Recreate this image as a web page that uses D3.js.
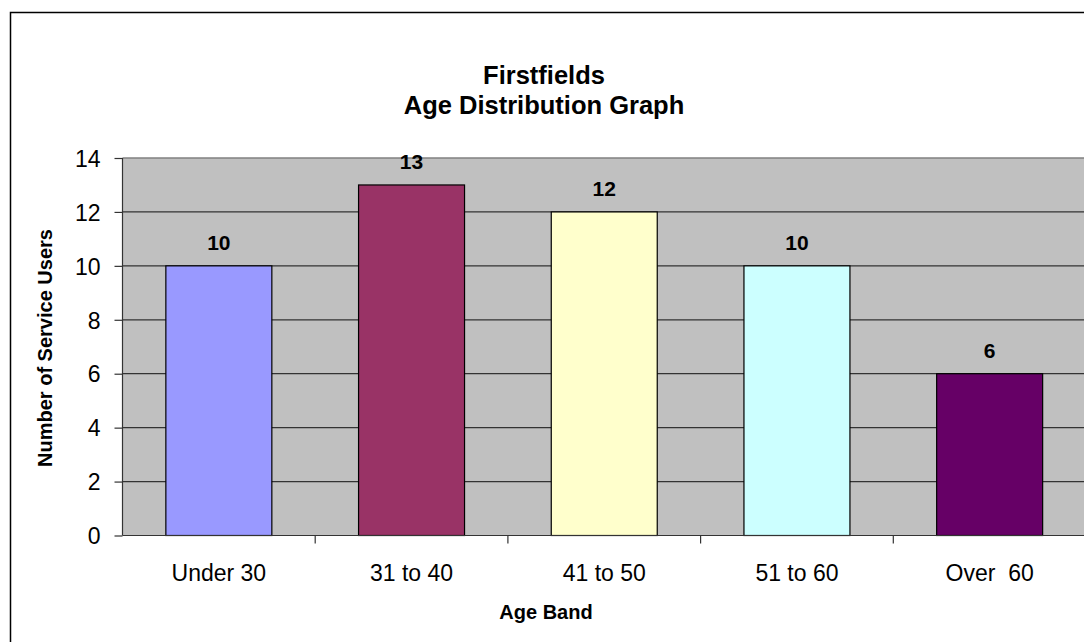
<!DOCTYPE html>
<html><head><meta charset="utf-8">
<script src="https://cdn.jsdelivr.net/npm/d3@7"></script>
<style>body{margin:0;background:#fff}svg{display:block}text{font-family:"Liberation Sans",Arial,sans-serif;white-space:pre}</style>
</head><body><svg id="c" width="1084" height="642"></svg>
<script>
const categories = ["Under 30","31 to 40","41 to 50","51 to 60","Over  60"];
const values = [10,13,12,10,6];
const colors = ["#9999FF","#993366","#FFFFCC","#CCFFFF","#660066"];
const yTicks = [0,2,4,6,8,10,12,14];
const titleLines = ["Firstfields","Age Distribution Graph"];

const svg = d3.select("#c");
const L=122.5, T=158, R=1086, B=535.5;
svg.append("rect").attr("x",10.5).attr("y",12.5).attr("width",1100).attr("height",700)
  .attr("fill","#fff").attr("stroke","#000").attr("stroke-width",1.5);

const x = d3.scaleBand().domain(categories).range([L,R]).paddingInner(0.45).paddingOuter(0.225);
const xb = d3.scaleBand().domain(categories).range([L,R]);
const y = d3.scaleLinear().domain([0,14]).range([B,T]);

svg.append("rect").attr("x",L).attr("y",T).attr("width",R-L).attr("height",B-T).attr("fill","#C0C0C0");
svg.append("line").attr("x1",L).attr("x2",R).attr("y1",T).attr("y2",T).attr("stroke","#808080").attr("stroke-width",1.5);
svg.append("g").selectAll("line").data(yTicks.filter(d=>d>0&&d<14)).join("line")
  .attr("x1",L).attr("x2",R).attr("y1",d=>y(d)).attr("y2",d=>y(d)).attr("stroke","#333").attr("stroke-width",1.2);

svg.append("g").selectAll("rect").data(values).join("rect")
  .attr("x",(d,i)=>x(categories[i])).attr("width",x.bandwidth())
  .attr("y",d=>y(d)).attr("height",d=>B-y(d))
  .attr("fill",(d,i)=>colors[i]).attr("stroke","#000").attr("stroke-width",1.2);

svg.append("g").selectAll("text").data(values).join("text")
  .attr("x",(d,i)=>x(categories[i])+x.bandwidth()/2).attr("y",d=>y(d)-16)
  .attr("text-anchor","middle").attr("font-size",21).attr("font-weight","bold").text(d=>d);

const ya = d3.axisLeft(y).tickValues(yTicks).tickSize(8).tickPadding(14).tickFormat(d3.format("d"));
const gy = svg.append("g").attr("transform",`translate(${L},0)`).call(ya);
gy.selectAll("text").attr("font-size",23).attr("fill","#000").attr("dy","0.36em");
gy.selectAll("line,path").attr("stroke","#333").attr("stroke-width",1.2);
gy.select(".domain").attr("d",`M0,${B}V${T}`);

const xa = d3.axisBottom(xb).tickSize(0).tickPadding(0);
const gx = svg.append("g").attr("transform",`translate(0,${B})`).call(xa);
gx.selectAll("text").attr("font-size",23).attr("fill","#000").attr("dy",null).attr("y",45.5);
gx.select(".domain").attr("stroke","#333").attr("stroke-width",1.2).attr("d",`M${L},0H${R}`);
svg.append("g").selectAll("line").data(categories.slice(1)).join("line")
  .attr("x1",d=>xb(d)).attr("x2",d=>xb(d)).attr("y1",B).attr("y2",B+8).attr("stroke","#333").attr("stroke-width",1.2);

svg.append("text").attr("x",544).attr("y",84).attr("text-anchor","middle").attr("font-size",25.5).attr("font-weight","bold").text(titleLines[0]);
svg.append("text").attr("x",544).attr("y",114).attr("text-anchor","middle").attr("font-size",25.5).attr("font-weight","bold").text(titleLines[1]);
svg.append("text").attr("transform","translate(52,348) rotate(-90)").attr("text-anchor","middle").attr("font-size",20).attr("font-weight","bold").text("Number of Service Users");
svg.append("text").attr("x",546).attr("y",619).attr("text-anchor","middle").attr("font-size",20).attr("font-weight","bold").text("Age Band");
</script></body></html>
